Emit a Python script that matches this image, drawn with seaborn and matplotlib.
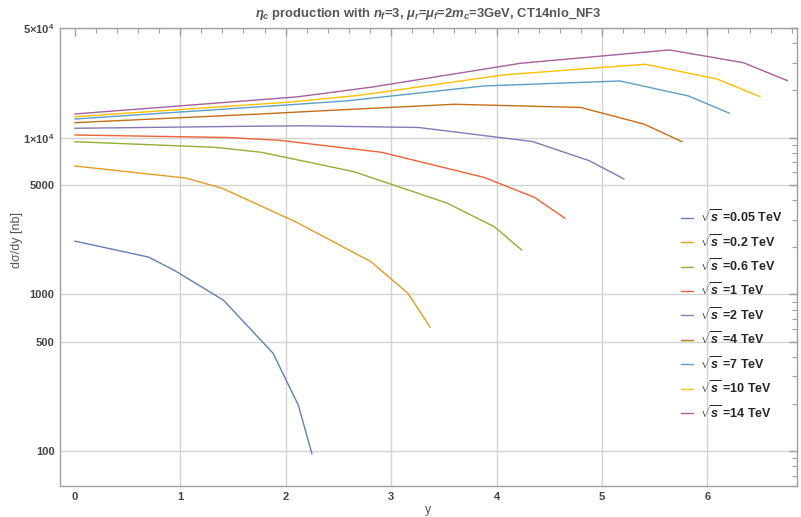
import matplotlib
matplotlib.use("Agg")
import matplotlib.pyplot as plt
import matplotlib.ticker as mticker
from matplotlib.lines import Line2D
import pandas as pd
import seaborn as sns

# rapidity points and d(sigma)/dy [nb], one pair per sqrt(s)
energies = ["0.05", "0.2", "0.6", "1", "2", "4", "7", "10", "14"]

y_005 = [0, 0.70, 0.94, 1.41, 1.88, 2.12, 2.25]
xs_005 = [2188, 1730, 1429, 919, 422, 197, 96]

y_02 = [0, 1.05, 1.40, 2.10, 2.81, 3.16, 3.37]
xs_02 = [6589, 5524, 4748, 2893, 1615, 1015, 618]

y_06 = [0, 1.33, 1.77, 2.65, 3.53, 3.98, 4.24]
xs_06 = [9415, 8672, 8058, 6059, 3824, 2700, 1917]

y_1 = [0, 1.45, 1.94, 2.91, 3.88, 4.36, 4.65]
xs_1 = [10390, 10015, 9612, 8058, 5580, 4159, 3055]

y_2 = [0, 1.63, 2.17, 3.26, 4.34, 4.88, 5.21]
xs_2 = [11466, 11808, 11895, 11601, 9443, 7122, 5442]

y_4 = [0, 1.80, 2.40, 3.60, 4.80, 5.40, 5.76]
xs_4 = [12450, 14188, 14890, 16316, 15566, 12178, 9415]

y_7 = [0, 1.94, 2.59, 3.88, 5.17, 5.82, 6.21]
xs_7 = [13142, 16027, 17176, 21346, 22971, 18433, 14294]

y_10 = [0, 2.03, 2.71, 4.06, 5.41, 6.09, 6.50]
xs_10 = [13594, 16823, 18649, 25090, 29362, 23659, 18242]

y_14 = [0, 2.11, 2.82, 4.23, 5.64, 6.34, 6.76]
xs_14 = [14145, 18188, 21006, 29799, 36224, 30061, 23073]

ys = [y_005, y_02, y_06, y_1, y_2, y_4, y_7, y_10, y_14]
xss = [xs_005, xs_02, xs_06, xs_1, xs_2, xs_4, xs_7, xs_10, xs_14]

# mathematica default colours
colors = ["#5E81B5", "#E19C24", "#8FB032", "#EB6235", "#8778B3",
          "#C56E1A", "#5D9EC7", "#FFBF00", "#A5609D"]

ytick_vals = [100, 500, 1000, 5000, 1e4, 5e4]
ytick_labels = ["100", "500", "1000", "5000", r"1$\times$10$^4$", r"5$\times$10$^4$"]

rows = []
for e, yv, xv in zip(energies, ys, xss):
    for a, b in zip(yv, xv):
        rows.append([e, a, b])
df = pd.DataFrame(rows, columns=["energy", "y", "xsec"])

sns.set_style("white")
plt.rcParams["font.family"] = ["Liberation Sans", "DejaVu Sans"]
plt.rcParams["mathtext.fontset"] = "custom"
plt.rcParams["mathtext.rm"] = "Liberation Sans:bold"
plt.rcParams["mathtext.it"] = "Liberation Sans:italic:bold"
plt.rcParams["mathtext.bf"] = "Liberation Sans:bold"

fig = plt.figure(figsize=(8.01, 5.17), dpi=100)
ax = fig.add_axes([60 / 801, 1 - 486 / 517, 737 / 801, 458 / 517])

palette = dict(zip(energies, colors))
sns.lineplot(data=df, x="y", y="xsec", hue="energy", hue_order=energies,
             palette=palette, sort=False, estimator=None, linewidth=1.0,
             legend=False, ax=ax)

ax.set_yscale("log")
ax.set_xlim(-0.14, 6.85)
ax.set_ylim(60, 5e4)

ax.set_xticks(range(7))
ax.xaxis.set_minor_locator(mticker.MultipleLocator(0.2))
ax.set_yticks(ytick_vals)
ax.set_yticklabels(ytick_labels)
ax.yaxis.set_minor_locator(mticker.LogLocator(subs=range(2, 10)))
ax.yaxis.set_minor_formatter(mticker.NullFormatter())

ax.grid(True, which="major", color="#d4d4d4", linewidth=1.0)
ax.xaxis.get_gridlines()[0].set_visible(False)

for s in ax.spines.values():
    s.set_color("#a0a0a0")
    s.set_linewidth(1.0)
ax.tick_params(which="both", direction="in", top=True, right=True,
               color="#a0a0a0", labelcolor="#444444", labelsize=8)
ax.tick_params(which="major", length=6, width=1.0, pad=4)
ax.tick_params(which="minor", length=3.5, width=0.8)
for lab in ax.get_xticklabels() + ax.get_yticklabels():
    lab.set_fontweight("bold")

ax.set_xlabel("y", color="#555555", fontsize=9)
ax.xaxis.set_label_coords(0.5, -0.04)
ax.set_ylabel("dσ/dy [nb]", color="#555555", fontsize=9)
ax.yaxis.set_label_coords(-0.05, 0.537)

ax.set_title(r"$\eta_c$ production with $n_f$=3, $\mu_r$=$\mu_f$=2$m_c$=3GeV, CT14nlo_NF3",
             color="#555555", fontsize=9.4, fontweight="bold", pad=8)

# legend handles in the same order/colours as the curves
handles = [Line2D([], [], color=palette[e], linewidth=1.0) for e in energies]
labels = [r"$\sqrt{s}$ =" + e + " TeV" for e in energies]
ax.legend(handles, labels, loc="upper left",
          bbox_to_anchor=(0.834, 0.62), frameon=False, borderpad=0,
          handlelength=1.0, handletextpad=0.5, labelspacing=0.61,
          prop={"size": 9, "weight": "bold"})

fig.savefig("out.png", dpi=100)
